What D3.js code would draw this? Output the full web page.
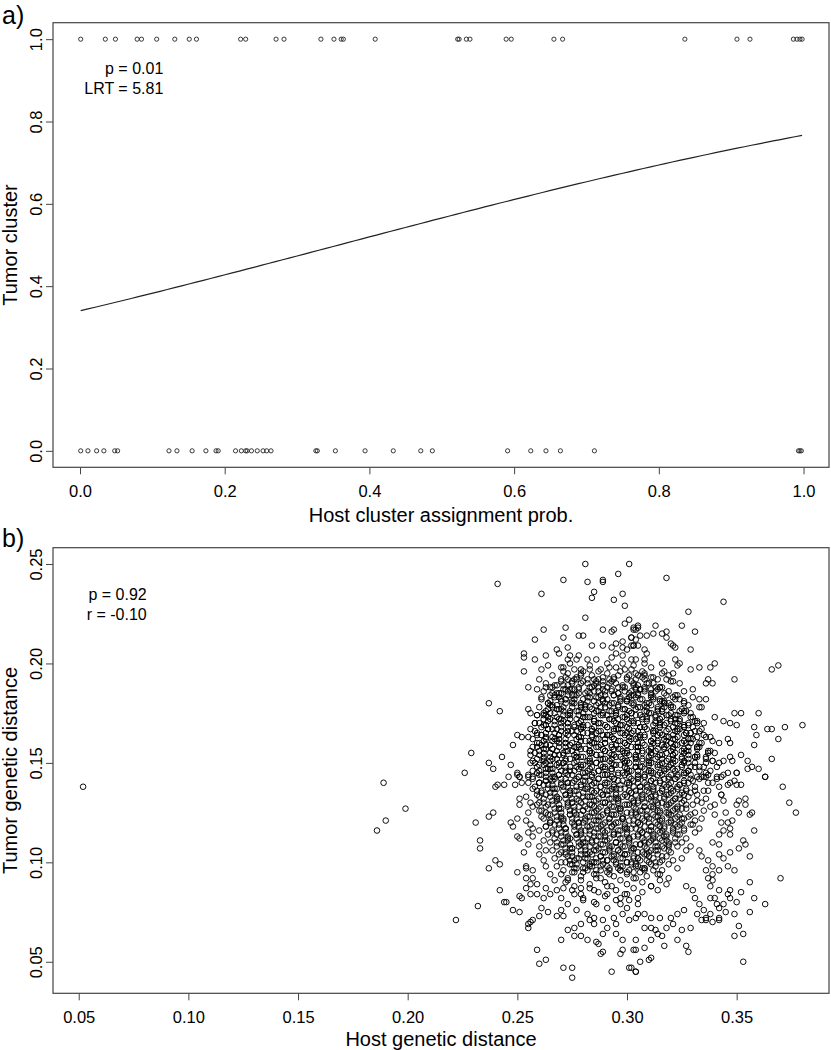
<!DOCTYPE html>
<html><head><meta charset="utf-8">
<script src="https://cdn.jsdelivr.net/npm/d3@7"></script>
<style>
body{margin:0;background:#fff}
svg{display:block;background:#fff}
text{font-family:"Liberation Sans",Arial,Helvetica,sans-serif;fill:#000}
</style>
</head><body>
<svg id="c" width="831" height="1050"></svg>
<script>
// ---------- Panel a data ----------
const probTumor1 = [0.001,0.035,0.049,0.079,0.085,0.106,0.131,0.151,0.161,0.222,0.229,0.271,0.282,0.333,0.351,0.361,0.364,0.408,0.522,0.524,0.534,0.539,0.589,0.596,0.655,0.667,0.836,0.908,0.926,0.986,0.991,0.995,0.998];
const probTumor0 = [0.001,0.011,0.023,0.033,0.048,0.052,0.123,0.134,0.155,0.174,0.188,0.191,0.215,0.223,0.229,0.231,0.237,0.245,0.253,0.258,0.264,0.326,0.328,0.353,0.394,0.433,0.471,0.487,0.591,0.623,0.644,0.664,0.711,0.993,0.995,0.997];
const logitIntercept = -0.663, logitSlope = 1.854;
const xTicksA = [0,0.2,0.4,0.6,0.8,1.0];
const yTicksA = [0,0.2,0.4,0.6,0.8,1.0];
const statsA = ["p = 0.01","LRT = 5.81"];

// ---------- Panel b data (host / tumor genetic distance, in thousandths) ----------
const scatterB = `
52/138 189/140 199/127 190/121 186/116
281/250 301/250 241/240 261/235 271/242 282/241 289/242 289/241 296/245 285/236 284/233 298/235 294/232 299/229 281/223 299/220 301/222 262/217 272/218 258/212 271/213 278/214 280/214 289/217 293/216 294/217 303/217 305/218 298/211 295/210 302/213 303/209 284/209 289/209 293/208 298/208 302/209 305/209 268/207 269/205 273/208 253/205 253/203 258/202 263/204 274/204 278/204 277/202 273/202 282/202 286/202 293/203 295/205 298/204 300/207
253/196 261/197 264/199 271/196 271/198 276/197 279/195 283/197 288/197 292/198 298/200 302/202 260/192 255/188 259/187 263/188 267/189 273/192 277/192 280/191 285/192 289/191 294/192 300/193 305/194 261/183 265/184 270/185 275/187 237/180 242/176 255/177 256/175 259/174 262/174 266/178 256/167 258/170 263/169 250/164 252/163 255/163 259/164 248/159 256/156 259/158 229/155 237/150 239/147 243/153 247/149 250/145 251/143 255/144 226/145 257/151 260/146 263/150
318/243 344/231 328/226 325/219 331/216 313/219 305/219 304/217 303/218 309/214 312/215 316/215 318/216 306/214 302/213 304/212 318/213 320/210 321/209 322/208 329/207 303/209 308/207 309/205 308/202 304/202 308/200 316/200 322/202 324/200 323/199 329/197 333/198 338/198 340/200 366/197 369/199 349/192 336/190 339/190 337/192 330/187 317/196 319/194 321/195 318/192 321/191 324/190 314/192 311/193 308/194 304/195 302/197 330/183 333/182 336/182 334/178 333/178 326/186 326/181 321/183 317/185 314/187 311/187 308/188 304/188 317/180 321/178 326/176 340/173 344/171 349/175 352/175 360/175 347/170 350/169 358/168 364/167 366/167 372/168 380/169 369/162 359/164 358/159 346/162 347/160 342/160 339/161 336/163 329/173 332/171 335/170 330/168 333/166 329/165 326/168 323/170 366/152 363/143 352/154 347/153 348/151 344/151 342/150 355/151 357/148 360/147 355/147 338/156 336/153 339/151 341/148 338/146 336/143 341/143 346/145 350/145 349/141
363/143 371/138 374/130 377/125 358/116 370/92 356/90 363/79 358/82 356/75 353/50 351/68 349/63 353/64 349/74 350/80 352/85 349/96 356/103 354/109 353/111 351/107 347/105 351/125 354/129 354/132 350/129 351/131 356/124 357/125 344/131 343/134 342/138 346/139 350/139 352/139 347/140 344/144 341/142 350/145 345/125 346/120 348/121 347/117 344/116 347/114 342/114 339/110 342/109 342/104 344/102 346/98 342/96 339/94 347/86 346/84 347/82 344/79 342/77 345/75 342/72 339/70 342/71 338/74 336/71 336/72 335/76 333/79 331/82 330/86 327/88 329/67 325/66 323/61 327/58 328/55 317/58 314/64 316/63 311/61 308/57 306/50 304/45 302/47 303/56 304/61 308/67 311/67 313/66 318/67 321/69 310/51 311/52 304/72 308/74 311/72 315/72 320/72 323/74 326/76 332/74 334/71 341/79 340/82 342/86 338/82 338/88 339/91 337/92 336/96 339/98 337/101 334/103 333/106 343/120 340/124 338/128 340/129 343/134 337/136 339/140 343/143 334/143 336/145
240/138 241/139 231/120 237/123 239/125 233/111 233/107 240/101 242/99 237/97 242/86 232/78 222/71 244/80 245/80 248/76 251/75 250/95 253/105 247/120 248/118 250/113 251/112 250/122 246/143 244/139 250/144 251/143 249/139 252/140 251/132 251/129 255/143 257/143 255/140 257/137 254/133 256/130 257/128 255/125 254/121 256/119 257/117 255/115 257/113 255/109 260/108 259/56 260/49 263/51 271/47 275/47 275/42 270/61 255/67 255/69 256/70 257/71 252/82 251/83 256/84 259/84 254/97 254/98 257/96 257/92 259/89 256/89 254/92 254/87 261/77 260/73 264/75 268/73 270/76 271/73 273/66 276/63 279/63 282/61 286/60 287/59 289/55 288/54 293/45 301/47 304/45 304/56 297/54 298/56 298/61 295/64 295/69 291/67 289/64 285/69 283/71 279/69 276/67 262/82 265/84 263/87 267/91 265/94 263/98 262/101 260/104 263/106 262/111 260/116 263/118 265/121 261/123 260/126 259/129 260/133 259/136 260/140 263/141 267/143 270/82 273/79 277/76 282/74 285/72 289/71 294/72 298/74 301/71 305/74 300/77 297/79 291/77 286/79 280/81 276/84 271/87 268/86 273/91 279/87 285/86 291/84 297/82 301/81 305/79
270/198 274/200 279/197 283/199 287/196 291/200 295/198 299/197 303/199 307/196 311/198
266/194 270/192 273/195 277/193 280/196 284/194 287/192 291/195 294/193 297/196 301/194 304/192 308/195 312/193 316/195
263/190 266/188 270/191 273/189 276/192 279/190 283/188 286/191 289/189 292/192 295/190 298/188 302/191 305/189 308/192 312/190 316/188 320/191
262/186 265/188 268/185 272/187 275/184 278/187 281/185 284/188 287/186 290/184 293/187 296/185 299/188 302/186 305/184 308/187 311/185 315/188 319/186 323/184
261/182 264/180 267/183 270/181 273/184 276/182 279/180 282/183 285/181 288/184 291/182 294/180 297/183 300/181 303/184 306/182 309/180 312/183 315/181 318/184 322/182 326/180
260/178 263/176 266/179 269/177 272/180 275/178 278/176 281/179 284/177 287/180 290/178 293/176 296/179 299/177 302/180 305/178 308/176 311/179 314/177 317/180 320/178 324/176 328/179
259/174 262/172 265/175 268/173 271/176 274/174 277/172 280/175 283/173 286/176 289/174 292/172 295/175 298/173 301/176 304/174 307/172 310/175 313/173 316/176 319/174 322/172 326/175 330/173
258/170 261/168 264/171 267/169 270/172 273/170 276/168 279/171 282/169 285/172 288/170 291/168 294/171 297/169 300/172 303/170 306/168 309/171 312/169 315/172 318/170 321/168 324/171 328/169 332/170
258/166 261/164 264/167 267/165 270/168 273/166 276/164 279/167 282/165 285/168 288/166 291/164 294/167 297/165 300/168 303/166 306/164 309/167 312/165 315/168 318/166 321/164 324/167 327/165 331/166 335/164
257/162 260/160 263/163 266/161 269/164 272/162 275/160 278/163 281/161 284/164 287/162 290/160 293/163 296/161 299/164 302/162 305/160 308/163 311/161 314/164 317/162 320/160 323/163 326/161 330/162 334/160 338/163
257/158 260/156 263/159 266/157 269/160 272/158 275/156 278/159 281/157 284/160 287/158 290/156 293/159 296/157 299/160 302/158 305/156 308/159 311/157 314/160 317/158 320/156 323/159 326/157 329/160 333/158 337/156
256/154 259/152 262/155 265/153 268/156 271/154 274/152 277/155 280/153 283/156 286/154 289/152 292/155 295/153 298/156 301/154 304/152 307/155 310/153 313/156 316/154 319/152 322/155 325/153 328/156 332/154 336/152 340/155
256/150 259/148 262/151 265/149 268/152 271/150 274/148 277/151 280/149 283/152 286/150 289/148 292/151 295/149 298/152 301/150 304/148 307/151 310/149 313/152 316/150 319/148 322/151 325/149 328/152 331/150 335/148 339/151
257/146 260/144 263/147 266/145 269/148 272/146 275/144 278/147 281/145 284/148 287/146 290/144 293/147 296/145 299/148 302/146 305/144 308/147 311/145 314/148 317/146 320/144 323/147 326/145 329/148 333/146 337/144
257/142 260/140 263/143 266/141 269/144 272/142 275/140 278/143 281/141 284/144 287/142 290/140 293/143 296/141 299/144 302/142 305/140 308/143 311/141 314/144 317/142 320/140 323/143 326/141 329/144 333/142 337/140
258/138 261/136 264/139 267/137 270/140 273/138 276/136 279/139 282/137 285/140 288/138 291/136 294/139 297/137 300/140 303/138 306/136 309/139 312/137 315/140 318/138 321/136 324/139 327/137 331/138 335/136
259/134 262/132 265/135 268/133 271/136 274/134 277/132 280/135 283/133 286/136 289/134 292/132 295/135 298/133 301/136 304/134 307/132 310/135 313/133 316/136 319/134 322/132 325/135 328/133 332/134 336/132
260/130 263/128 266/131 269/129 272/132 275/130 278/128 281/131 284/129 287/132 290/130 293/128 296/131 299/129 302/132 305/130 308/128 311/131 314/129 317/132 320/130 323/128 326/131 330/129 334/130
261/126 264/124 267/127 270/125 273/128 276/126 279/124 282/127 285/125 288/128 291/126 294/124 297/127 300/125 303/128 306/126 309/124 312/127 315/125 318/128 321/126 324/124 327/127 331/125 335/126
262/122 265/120 268/123 271/121 274/124 277/122 280/120 283/123 286/121 289/124 292/122 295/120 298/123 301/121 304/124 307/122 310/120 313/123 316/121 319/124 322/122 325/120 328/123 331/121 334/122
263/118 266/116 269/119 272/117 275/120 278/118 281/116 284/119 287/117 290/120 293/118 296/116 299/119 302/117 305/120 308/118 311/116 314/119 317/117 320/120 323/118 326/116 329/119 333/117
264/114 267/112 270/115 273/113 276/116 279/114 282/112 285/115 288/113 291/116 294/114 297/112 300/115 303/113 306/116 309/114 312/112 315/115 318/113 321/116 324/114 327/112 331/115
265/110 268/108 271/111 274/109 277/112 280/110 283/108 286/111 289/109 292/112 295/110 298/108 301/111 304/109 307/112 310/110 313/108 316/111 319/109 322/112 325/110 329/108
266/106 269/104 272/107 275/105 278/108 281/106 284/104 287/107 290/105 293/108 296/106 299/104 302/107 305/105 308/108 311/106 314/104 317/107 320/105 323/108 327/106
267/102 270/100 273/103 276/101 279/104 282/102 285/100 288/103 291/101 294/104 297/102 300/100 303/103 306/101 309/104 312/102 315/100 318/103 321/101 325/102
268/98 271/96 274/99 277/97 280/100 283/98 286/96 289/99 292/97 295/100 298/98 301/96 304/99 307/97 310/100 313/98 316/96 319/99 323/97
270/94 273/92 276/95 279/93 282/96 285/94 288/92 291/95 294/93 297/96 300/94 303/92 306/95 309/93 312/96 315/94 319/92
272/90 276/88 279/91 283/89 286/92 290/90 293/88 297/91 300/89 304/92 307/90 311/88 315/91 318/89
275/86 279/84 283/87 287/85 291/88 295/86 299/84 303/87 307/85 311/88 314/86
280/82 285/80 290/83 295/81 300/84 305/82
272/193 275/191 279/194 282/192 286/190 289/193 293/191 296/194 300/192 303/190 307/193
268/189 271/187 275/190 278/188 282/186 285/189 289/187 292/190 296/188 299/186 303/189 306/187 310/190 313/188
266/185 269/183 273/186 276/184 280/182 283/185 287/183 290/186 294/184 297/182 301/185 304/183 308/186 311/184 315/182
265/181 268/179 272/182 275/180 279/178 282/181 286/179 289/182 293/180 296/178 300/181 303/179 307/182 310/180 314/178 317/181
264/177 267/175 271/178 274/176 278/174 281/177 285/175 288/178 292/176 295/174 299/177 302/175 306/178 309/176 313/174 316/177 320/175
264/173 267/171 271/174 274/172 278/170 281/173 285/171 288/174 292/172 295/170 299/173 302/171 306/174 309/172 313/170 316/173 320/171 323/174
263/169 266/167 270/170 273/168 277/166 280/169 284/167 287/170 291/168 294/166 298/169 301/167 305/170 308/168 312/166 315/169 319/167 322/170 326/168
263/165 266/163 270/166 273/164 277/162 280/165 284/163 287/166 291/164 294/162 298/165 301/163 305/166 308/164 312/162 315/165 319/163 322/166 326/164 329/162
262/161 265/159 269/162 272/160 276/158 279/161 283/159 286/162 290/160 293/158 297/161 300/159 304/162 307/160 311/158 314/161 318/159 321/162 325/160 328/158
262/157 265/155 269/158 272/156 276/154 279/157 283/155 286/158 290/156 293/154 297/157 300/155 304/158 307/156 311/154 314/157 318/155 321/158 325/156 328/154 332/157
262/153 265/151 269/154 272/152 276/150 279/153 283/151 286/154 290/152 293/150 297/153 300/151 304/154 307/152 311/150 314/153 318/151 321/154 325/152 328/150 332/153
262/149 265/147 269/150 272/148 276/146 279/149 283/147 286/150 290/148 293/146 297/149 300/147 304/150 307/148 311/146 314/149 318/147 321/150 325/148 328/146
263/145 266/143 270/146 273/144 277/142 280/145 284/143 287/146 291/144 294/142 298/145 301/143 305/146 308/144 312/142 315/145 319/143 322/146 326/144 329/142
263/141 266/139 270/142 273/140 277/138 280/141 284/139 287/142 291/140 294/138 298/141 301/139 305/142 308/140 312/138 315/141 319/139 322/142 326/140
264/137 267/135 271/138 274/136 278/134 281/137 285/135 288/138 292/136 295/134 299/137 302/135 306/138 309/136 313/134 316/137 320/135 323/138 327/136
265/133 268/131 272/134 275/132 279/130 282/133 286/131 289/134 293/132 296/130 300/133 303/131 307/134 310/132 314/130 317/133 321/131 324/134
266/129 269/127 273/130 276/128 280/126 283/129 287/127 290/130 294/128 297/126 301/129 304/127 308/130 311/128 315/126 318/129 322/127 325/130
267/125 270/123 274/126 277/124 281/122 284/125 288/123 291/126 295/124 298/122 302/125 305/123 309/126 312/124 316/122 319/125 323/123
268/121 271/119 275/122 278/120 282/118 285/121 289/119 292/122 296/120 299/118 303/121 306/119 310/122 313/120 317/118 320/121 324/119
269/117 272/115 276/118 279/116 283/114 286/117 290/115 293/118 297/116 300/114 304/117 307/115 311/118 314/116 318/114 321/117
270/113 273/111 277/114 280/112 284/110 287/113 291/111 294/114 298/112 301/110 305/113 308/111 312/114 315/112 319/110
271/109 274/107 278/110 281/108 285/106 288/109 292/107 295/110 299/108 302/106 306/109 309/107 313/110 316/108
272/105 275/103 279/106 282/104 286/102 289/105 293/103 296/106 300/104 303/102 307/105 310/103 314/106
274/101 277/99 281/102 284/100 288/98 291/101 295/99 298/102 302/100 305/98 309/101
276/97 280/95 284/98 288/96 292/94 296/97 300/95 304/98 308/96
271/189 276/187 282/190 287/188 293/186 298/189 304/187 309/190 315/188
267/184 272/182 278/185 283/183 289/181 294/184 300/182 305/185 311/183 316/181 322/184
265/179 270/177 276/180 281/178 287/176 292/179 298/177 303/180 309/178 314/176 320/179 325/177
263/174 269/172 274/175 280/173 285/171 291/174 296/172 302/175 307/173 313/171 318/174 324/172 329/175
262/169 268/167 273/170 279/168 284/166 290/169 295/167 301/170 306/168 312/166 317/169 323/167 328/170
261/164 267/162 272/165 278/163 283/161 289/164 294/162 300/165 305/163 311/161 316/164 322/162 327/165 332/163
261/159 266/157 272/160 277/158 283/156 288/159 294/157 299/160 305/158 310/156 316/159 321/157 327/160 332/158
260/154 266/152 271/155 277/153 282/151 288/154 293/152 299/155 304/153 310/151 315/154 321/152 326/155 331/153
260/149 266/147 271/150 277/148 282/146 288/149 293/147 299/150 304/148 310/146 315/149 321/147 326/150 331/148
261/144 267/142 272/145 278/143 283/141 289/144 294/142 300/145 305/143 311/141 316/144 322/142 327/145 332/143
262/139 268/137 273/140 279/138 284/136 290/139 295/137 301/140 306/138 312/136 317/139 323/137 328/140
263/134 269/132 274/135 280/133 285/131 291/134 296/132 302/135 307/133 313/131 318/134 324/132 329/135
264/129 270/127 275/130 281/128 286/126 292/129 297/127 303/130 308/128 314/126 319/129 325/127
265/124 271/122 276/125 282/123 287/121 293/124 298/122 304/125 309/123 315/121 320/124 326/122
267/119 272/117 278/120 283/118 289/116 294/119 300/117 305/120 311/118 316/116 322/119
268/114 274/112 279/115 285/113 290/111 296/114 301/112 307/115 312/113 318/111 323/114
270/109 275/107 281/110 286/108 292/106 297/109 303/107 308/110 314/108 319/106
272/104 277/102 283/105 288/103 294/101 299/104 305/102 310/105 316/103
275/99 280/97 286/100 291/98 297/96 302/99 308/97 313/100
269/185 274/187 277/184 285/186 291/188 296/185 302/184 306/187 313/186
264/180 270/182 275/181 279/179 286/183 290/180 297/181 301/183 308/179 312/182 319/180 324/182
262/175 268/177 273/174 277/176 283/178 289/175 295/176 300/174 304/177 311/175 317/178 322/174 327/176
260/170 265/172 271/171 276/169 282/173 287/170 293/172 297/169 303/171 309/173 315/170 320/172 326/169 331/171
259/165 264/167 269/164 275/166 280/168 286/165 292/164 296/167 302/165 308/168 313/166 318/163 323/166 329/165 334/167
259/160 263/162 268/161 274/159 279/163 285/160 290/162 295/159 301/161 306/163 312/160 318/161 322/159 328/162 333/160
258/155 263/157 267/154 273/156 278/158 284/155 289/157 294/154 300/156 305/158 311/155 317/157 321/154 327/156 332/158 337/155
258/150 262/152 268/149 272/151 277/153 283/150 288/152 294/149 299/151 304/153 310/150 316/152 320/149 326/151 331/153 336/150
259/145 264/147 269/144 274/146 279/148 285/145 290/147 296/144 301/146 306/148 312/145 317/147 323/144 328/146 333/148
260/140 265/142 270/139 276/141 281/143 286/140 292/142 297/139 303/141 308/143 313/140 319/142 324/139 330/141 335/143
261/135 266/137 272/134 277/136 282/138 288/135 293/137 299/134 304/136 309/138 315/135 320/137 326/134 331/136
262/130 268/132 273/129 278/131 284/133 289/130 295/132 300/129 305/131 311/133 316/130 322/132 327/129 332/131
263/125 269/127 274/124 280/126 285/128 291/125 296/127 302/124 307/126 312/128 318/125 323/127 329/124
265/120 270/122 276/119 281/121 287/123 292/120 298/122 303/119 308/121 314/123 319/120 325/122 330/119
266/115 272/117 277/114 283/116 288/118 294/115 299/117 305/114 310/116 315/118 321/115 326/117
268/110 273/112 279/109 284/111 290/113 295/110 301/112 306/109 311/111 317/113 322/110
270/105 275/107 281/104 286/106 292/108 297/105 303/107 308/104 313/106 319/108
272/100 278/102 283/99 289/101 294/103 300/100 305/102 311/99 316/101
275/95 281/97 286/94 292/96 297/98 303/95 308/97 314/94
`;
const pairsB = scatterB.trim().split(/\s+/).map(s => s.split('/').map(Number));
const hostDist = pairsB.map(p => p[0] / 1000);
const tumorDist = pairsB.map(p => p[1] / 1000);
const xTicksB = [0.05,0.10,0.15,0.20,0.25,0.30,0.35];
const yTicksB = [0.05,0.10,0.15,0.20,0.25];
const statsB = ["p = 0.92","r = -0.10"];

// ---------- drawing ----------
const svg = d3.select('#c');
const AX = '#444';

function drawPanel(o){
  const {box, x, y, xt, yt, fx, fy} = o;
  const gx = svg.append('g').attr('transform', `translate(0,${box.b})`)
    .call(d3.axisBottom(x).tickValues(xt).tickFormat(fx).tickSize(7));
  gx.select('.domain').remove();
  gx.selectAll('line').attr('stroke', AX);
  gx.selectAll('text').attr('y', 29.4).attr('dy', 0).attr('font-size', 16.5)
    .attr('font-family', '"Liberation Sans",Arial,sans-serif').attr('fill', '#000');
  const gy = svg.append('g').attr('transform', `translate(${box.l},0)`)
    .call(d3.axisLeft(y).tickValues(yt).tickFormat(fy).tickSize(7));
  gy.select('.domain').remove();
  gy.selectAll('line').attr('stroke', AX);
  gy.selectAll('text').attr('x', 0).attr('y', -11).attr('dy', 0)
    .attr('transform', 'rotate(-90)').attr('text-anchor', 'middle')
    .attr('font-size', 16.5).attr('font-family', '"Liberation Sans",Arial,sans-serif').attr('fill', '#000');
  svg.append('rect').attr('x', box.l).attr('y', box.t)
    .attr('width', box.r - box.l).attr('height', box.b - box.t)
    .attr('fill', 'none').attr('stroke', AX).attr('stroke-width', 1.2);
}

// Panel a
const boxA = {l:53, r:829, t:22.7, b:467.3};
const xA = d3.scaleLinear().domain([-0.0373, 1.0352]).range([boxA.l, boxA.r]);
const yA = d3.scaleLinear().domain([-0.04, 1.04]).range([boxA.b, boxA.t]);
drawPanel({box:boxA, x:xA, y:yA, xt:xTicksA, yt:yTicksA, fx:d3.format('.1f'), fy:d3.format('.1f')});

const gA = svg.append('g');
gA.selectAll('circle.t1').data(probTumor1).join('circle')
  .attr('cx', d => xA(d)).attr('cy', yA(1)).attr('r', 2.1)
  .attr('fill', 'none').attr('stroke', '#222').attr('stroke-width', 0.9);
gA.selectAll('circle.t0').data(probTumor0).join('circle')
  .attr('cx', d => xA(d)).attr('cy', yA(0)).attr('r', 2.1)
  .attr('fill', 'none').attr('stroke', '#222').attr('stroke-width', 0.9);
// fitted logistic curve
const allA = probTumor1.concat(probTumor0);
const xmin = d3.min(allA), xmax = d3.max(allA);
const curveX = d3.range(0, 101).map(i => xmin + (xmax - xmin) * i / 100);
svg.append('path').datum(curveX)
  .attr('d', d3.line().x(d => xA(d)).y(d => yA(1 / (1 + Math.exp(-(logitIntercept + logitSlope * d))))))
  .attr('fill', 'none').attr('stroke', '#222').attr('stroke-width', 1.2);

svg.append('text').attr('x', 2).attr('y', 23.5).attr('font-size', 25).text('a)');
svg.append('text').attr('transform', `translate(17,${(boxA.t + boxA.b) / 2}) rotate(-90)`)
  .attr('text-anchor', 'middle').attr('font-size', 20).text('Tumor cluster');
svg.append('text').attr('x', (boxA.l + boxA.r) / 2).attr('y', 521.7)
  .attr('text-anchor', 'middle').attr('font-size', 20).text('Host cluster assignment prob.');
statsA.forEach((s, i) => svg.append('text').attr('x', 163.3).attr('y', 74 + i * 20.3)
  .attr('text-anchor', 'end').attr('font-size', 16).text(s));

// Panel b
const boxB = {l:53, r:829, t:547.7, b:993.3};
const xB = d3.scaleLinear().domain([0.03828, 0.3921]).range([boxB.l, boxB.r]);
const yB = d3.scaleLinear().domain([0.03415, 0.2582]).range([boxB.b, boxB.t]);
drawPanel({box:boxB, x:xB, y:yB, xt:xTicksB, yt:yTicksB, fx:d3.format('.2f'), fy:d3.format('.2f')});

svg.append('g').selectAll('circle').data(d3.range(hostDist.length)).join('circle')
  .attr('cx', i => xB(hostDist[i])).attr('cy', i => yB(tumorDist[i])).attr('r', 2.8)
  .attr('fill', 'none').attr('stroke', '#000').attr('stroke-width', 0.95);

svg.append('text').attr('x', 2).attr('y', 547).attr('font-size', 25).text('b)');
svg.append('text').attr('transform', `translate(17,${(boxB.t + boxB.b) / 2}) rotate(-90)`)
  .attr('text-anchor', 'middle').attr('font-size', 20).text('Tumor genetic distance');
svg.append('text').attr('x', (boxB.l + boxB.r) / 2).attr('y', 1046)
  .attr('text-anchor', 'middle').attr('font-size', 20).text('Host genetic distance');
statsB.forEach((s, i) => svg.append('text').attr('x', 146.7).attr('y', 600 + i * 20)
  .attr('text-anchor', 'end').attr('font-size', 16).text(s));
</script>
</body></html>
